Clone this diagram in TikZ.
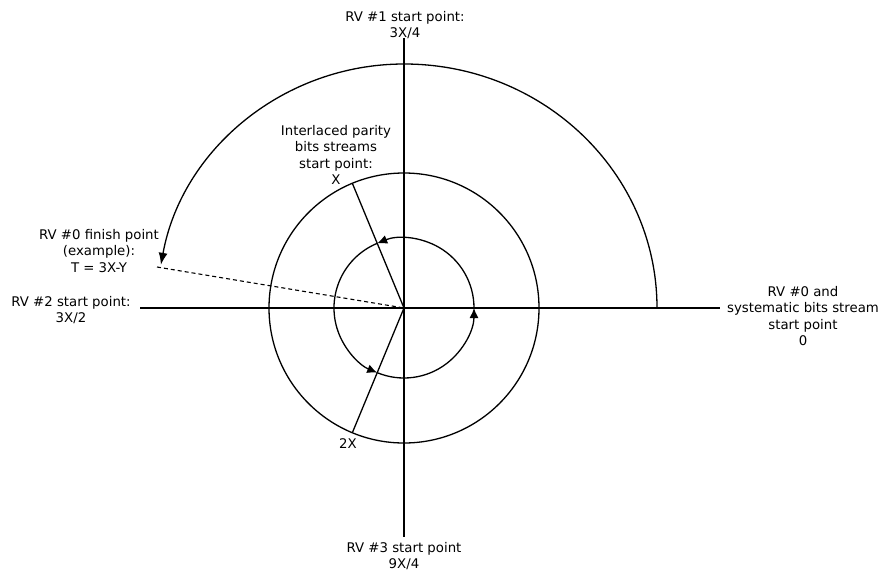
\documentclass[tikz,border=0pt]{standalone}
\usepackage{fontspec}
\setmainfont{DejaVu Sans}
\usetikzlibrary{arrows.meta}
\begin{document}
\begin{tikzpicture}[x=1pt,y=-1pt,
  line width=1.3pt,
  lbl/.style={align=center,inner sep=0pt,font=\fontsize{13.3}{16.5}\selectfont},
  tip/.style={-{Latex[length=10pt,width=9pt]}},
  axis/.style={line width=1.3pt}]
\useasboundingbox[fill=white] (0,0) rectangle (880,573);
\coordinate (O) at (404,308);
% axes
\coordinate (T) at (404,38);
\coordinate (B) at (404,537);
\coordinate (L) at (140,308);
\coordinate (R) at (720,308);
\draw[axis] (T) -- (B);
\draw[axis] (L) -- (R);
% outer circle
\draw (O) circle[radius=135];
% inner circle arcs with arrows (counterclockwise on screen)
\draw[tip] ([shift={(-247.5:70)}]O) arc[start angle=-247.5,end angle=-360,radius=70];
\draw[tip] ([shift={(0:70)}]O) arc[start angle=0,end angle=-112.5,radius=70];
\draw[tip] ([shift={(-112.5:70)}]O) arc[start angle=-112.5,end angle=-247.5,radius=70];
% spokes
\coordinate (PX) at ([shift={(-112.5:135)}]O);
\coordinate (P2X) at ([shift={(-247.5:135)}]O);
\draw (O) -- (PX);
\draw (O) -- (P2X);
% big arc
\coordinate (BA) at (657,308);
\draw[-{Latex[length=12pt,width=9pt]}] (BA) arc[start angle=0,end angle=-90,x radius=253,y radius=244]
  arc[start angle=-90,end angle=-169.8,x radius=247,y radius=244];
% dashed line
\coordinate (D) at (157,267);
\draw[dash pattern=on 4pt off 3pt,line width=1.1pt] (D) -- (O);
% labels
\node[lbl] (l1) at (405,25) {RV \#1 start point:\\3X/4};
\node[lbl] (l3) at (404,556) {RV \#3 start point\\9X/4};
\node[lbl] (l2) at (71,310) {RV \#2 start point:\\3X/2};
\node[lbl] (lf) at (99,251) {RV \#0 finish point\\(example):\\T = 3X-Y};
\node[lbl] (l0) at (803,316) {RV \#0 and\\systematic bits stream\\start point\\0};
\node[lbl] (li) at (336,155) {Interlaced parity\\bits streams\\start point:\\X};
\node[lbl] (l2x) at (348,444) {2X};
\end{tikzpicture}
\end{document}
